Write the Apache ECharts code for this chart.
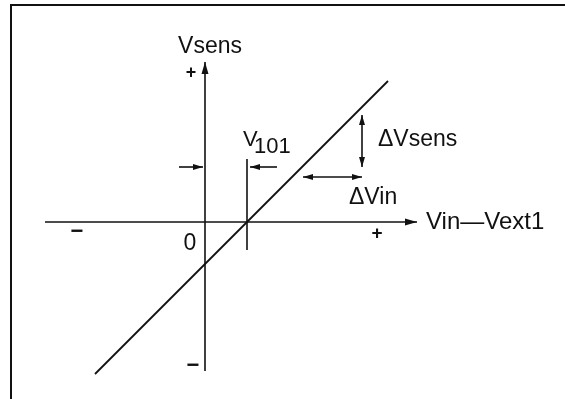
<!DOCTYPE html>
<html>
<head>
<meta charset="utf-8">
<style>
  html, body { margin: 0; padding: 0; background: #fff; }
  #chart { width: 565px; height: 399px; }
</style>
<script src="https://cdn.jsdelivr.net/npm/echarts@6/dist/echarts.min.js"></script>
</head>
<body>
<div id="chart"></div>
<script>
// diagram units: origin where the two axes cross, y grows upward

// transfer line Vsens vs (Vin - Vext1), crosses zero at V101
const responseX = [-110, 183]
const responseY = [-152, 141]

// segments: x1, y1, x2, y2, head at start (1/0), head at end (1/0)
const axisSegments = [
  [-160, 0, 212, 0, 0, 1],   // Vin - Vext1 axis
  [0, -149, 0, 160, 0, 1]    // Vsens axis
]
const markerSegments = [
  [42, 63, 42, -28, 0, 0]    // V101 marker
]
const noteArrows = [
  [-26, 55, -2, 55, 0, 1],   // offset arrow, left side
  [72, 55, 45, 55, 0, 1],    // offset arrow, right side
  [157, 107, 157, 55, 1, 1], // delta Vsens
  [98, 45, 157, 45, 1, 1]    // delta Vin
]

// text labels
const labelText = ['Vsens', '+', 'V', '101', '\u0394Vsens', '\u0394Vin', 'Vin\u2014Vext1', '\u2212', '+', '0', '\u2212']
const labelX = [5, -14, 38, 49, 173, 144, 221, -128, 172, -15, -12]
const labelY = [175, 149, 82, 75, 82, 24, 0, -10, -12, -22, -144]
const labelAlign = ['center', 'center', 'left', 'left', 'left', 'left', 'left', 'center', 'center', 'center', 'center']
const labelSize = [23, 18, 22, 22, 23, 23, 24, 22, 19, 23, 22]
const labelWeight = ['normal', 'bold', 'normal', 'normal', 'normal', 'normal', 'normal', 'bold', 'bold', 'normal', 'bold']

const FONT = "'Liberation Sans', Arial, Helvetica, sans-serif"

const chart = echarts.init(document.getElementById('chart'))

function arrowHead(tip, from, len, width) {
  const dx = tip[0] - from[0]
  const dy = tip[1] - from[1]
  const d = Math.sqrt(dx * dx + dy * dy) || 1
  const ux = dx / d, uy = dy / d
  const bx = tip[0] - ux * len, by = tip[1] - uy * len
  return {
    type: 'polygon',
    shape: {
      points: [
        tip,
        [bx - uy * width / 2, by + ux * width / 2],
        [bx + uy * width / 2, by - ux * width / 2]
      ]
    },
    style: { fill: '#111' }
  }
}

function segmentRenderer(headLen, headWidth) {
  return function (params, api) {
    const p1 = api.coord([api.value(0), api.value(1)])
    const p2 = api.coord([api.value(2), api.value(3)])
    const children = [{
      type: 'line',
      shape: { x1: p1[0], y1: p1[1], x2: p2[0], y2: p2[1] },
      style: { stroke: '#111', lineWidth: 1.6 }
    }]
    if (api.value(4)) children.push(arrowHead(p1, p2, headLen, headWidth))
    if (api.value(5)) children.push(arrowHead(p2, p1, headLen, headWidth))
    return { type: 'group', children: children }
  }
}

const segEncode = { x: [0, 2], y: [1, 3] }

chart.setOption({
  animation: false,
  backgroundColor: '#fff',
  grid: { left: 0, right: 0, top: 0, bottom: 0 },
  xAxis: { type: 'value', min: -205, max: 360, show: false },
  yAxis: { type: 'value', min: -177, max: 222, show: false },
  graphic: [{
    type: 'polyline',
    shape: { points: [[11, 399], [11, 5], [565, 5]] },
    style: { stroke: '#111', lineWidth: 2, fill: null }
  }],
  series: [
    {
      name: 'response',
      type: 'line',
      data: responseX.map((x, i) => [x, responseY[i]]),
      symbol: 'none',
      lineStyle: { color: '#111', width: 1.8 }
    },
    {
      name: 'axes',
      type: 'custom',
      renderItem: segmentRenderer(12, 7),
      encode: segEncode,
      data: axisSegments
    },
    {
      name: 'marker',
      type: 'custom',
      renderItem: segmentRenderer(0, 0),
      encode: segEncode,
      data: markerSegments
    },
    {
      name: 'notes',
      type: 'custom',
      renderItem: segmentRenderer(10, 6),
      encode: segEncode,
      data: noteArrows
    },
    {
      name: 'labels',
      type: 'custom',
      encode: { x: 0, y: 1 },
      data: labelX.map((x, i) => [x, labelY[i]]),
      renderItem(params, api) {
        const i = params.dataIndex
        const p = api.coord([api.value(0), api.value(1)])
        return {
          type: 'text',
          x: p[0],
          y: p[1],
          style: {
            text: labelText[i],
            fill: '#111',
            font: labelWeight[i] + ' ' + labelSize[i] + 'px ' + FONT,
            align: labelAlign[i],
            verticalAlign: 'middle'
          }
        }
      }
    }
  ]
})
</script>
</body>
</html>
